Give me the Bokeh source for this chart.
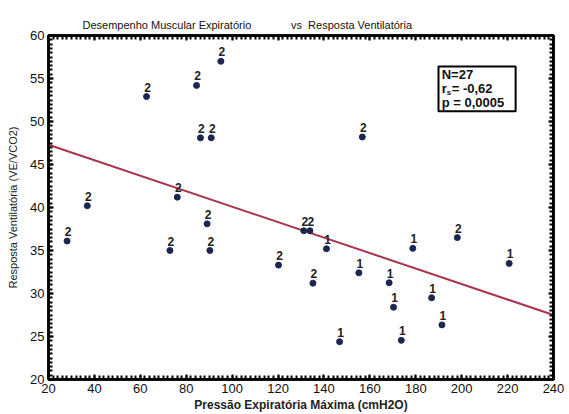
from bokeh.plotting import figure
from bokeh.models import (ColumnDataSource, SingleIntervalTicker, LinearAxis, Range1d)
from bokeh.core.properties import value
from bokeh.embed import file_html
from bokeh.resources import INLINE

# Data
pem = [28.1, 36.9, 62.7, 72.9, 76.1, 84.5, 86.2, 90.9, 89.1, 90.3, 95.1, 120.2, 131.2, 133.9,
       135.2, 141.1, 146.8, 155.2, 156.7, 168.4, 170.3, 173.7, 178.7, 186.9, 191.4, 198.1, 220.7]
resp = [36.1, 40.2, 52.9, 35.0, 41.2, 54.2, 48.1, 48.1, 38.1, 35.0, 57.0, 33.3, 37.3, 37.3,
        31.2, 35.2, 24.4, 32.4, 48.2, 31.25, 28.4, 24.55, 35.25, 29.5, 26.35, 36.5, 33.5]
group = ["2", "2", "2", "2", "2", "2", "2", "2", "2", "2", "2", "2", "2", "2",
         "2", "1", "1", "1", "2", "1", "1", "1", "1", "1", "1", "2", "1"]

fit_x = [20, 240]
fit_y = [47.3, 27.5]

NB = "\u00a0"
title_text = "Desempenho Muscular Expiratório" + NB * 13 + "vs" + NB * 2 + "Resposta Ventilatória"
x_label = "Pressão Expiratória Máxima (cmH2O)"
y_label = "Resposta Ventilatória (VE/VCO2)"

FONT = "Liberation Sans"

# stats box placement (annotation, in data units)
BOX_L, BOX_R, BOX_T, BOX_B = 189.9, 223.5, 56.4, 51.2
TXT_X = 191.3
TXT_Y = [55.5, 53.85, 52.2]

p = figure(width=565, height=414, output_backend="svg", toolbar_location=None,
           x_range=Range1d(20, 240), y_range=Range1d(20, 60),
           min_border_left=48, min_border_right=12, min_border_top=35, min_border_bottom=33,
           x_axis_location=None, y_axis_location=None)
p.grid.visible = False
p.outline_line_color = "black"
p.outline_line_width = 2.5
p.background_fill_color = "white"
p.border_fill_color = "white"

p.title.text = title_text
p.title.align = "left"
p.title.offset = 34
p.title.text_font = FONT
p.title.text_font_size = "11px"
p.title.text_font_style = "normal"
p.title.text_color = "#111111"
p.title.standoff = 10

def style_axis(ax, show_labels):
    ax.axis_line_width = 2.5
    ax.axis_line_color = "black"
    ax.major_tick_in = 5
    ax.major_tick_out = 0
    ax.minor_tick_in = 4
    ax.minor_tick_out = 0
    ax.major_tick_line_color = "black"
    ax.minor_tick_line_color = "black"
    ax.major_tick_line_width = 2
    ax.minor_tick_line_width = 2
    ax.major_label_text_font = FONT
    ax.major_label_text_font_size = "13px"
    ax.major_label_text_color = "#111111"
    ax.major_label_standoff = 4
    if not show_labels:
        ax.major_label_text_alpha = 0
        ax.major_label_text_font_size = "1px"
        ax.major_label_standoff = 0

xb = LinearAxis(ticker=SingleIntervalTicker(interval=20, num_minor_ticks=10), axis_label=x_label)
style_axis(xb, True)
xb.axis_label_text_font = FONT
xb.axis_label_text_font_size = "12px"
xb.axis_label_text_font_style = "bold"
xb.axis_label_text_color = "#222222"
xb.axis_label_standoff = 2
p.add_layout(xb, "below")

xa = LinearAxis(ticker=SingleIntervalTicker(interval=20, num_minor_ticks=10))
style_axis(xa, False)
p.add_layout(xa, "above")

yl = LinearAxis(ticker=SingleIntervalTicker(interval=5, num_minor_ticks=10), axis_label=y_label)
style_axis(yl, True)
yl.axis_label_text_font = FONT
yl.axis_label_text_font_size = "11px"
yl.axis_label_text_font_style = "normal"
yl.axis_label_text_color = "#222222"
yl.axis_label_standoff = 8
p.add_layout(yl, "left")

yr = LinearAxis(ticker=SingleIntervalTicker(interval=5, num_minor_ticks=10))
style_axis(yr, False)
p.add_layout(yr, "right")

# backup frame border drawn as a glyph over the full range
p.quad(left=[20], right=[240], top=[60], bottom=[20], fill_alpha=0,
       line_color="black", line_width=3)

# regression line
p.line(fit_x, fit_y, line_color="#a8344f", line_width=2)

src = ColumnDataSource(dict(x=pem, y=resp, g=group))
p.scatter("x", "y", source=src, size=6, fill_color="#1c2750", line_color="#1c2750")
p.text("x", "y", text="g", source=src, text_align="center", text_baseline="bottom",
       x_offset=1, y_offset=-5, text_font=value(FONT), text_font_size="12px",
       text_font_style="bold", text_color="#222222")

# stats box
p.quad(left=[BOX_L], right=[BOX_R], top=[BOX_T], bottom=[BOX_B],
       fill_color="white", line_color="black", line_width=2)
main_src = ColumnDataSource(dict(x=[TXT_X, TXT_X, TXT_X], y=TXT_Y,
                                 t=["N=27", "r", "p = 0,0005"]))
p.text("x", "y", text="t", source=main_src, text_align="left", text_baseline="middle",
       text_font=value(FONT), text_font_size="13px", text_font_style="bold",
       text_color="#111111")
p.text([TXT_X], [TXT_Y[1]], text=["s"], x_offset=5, y_offset=4, text_align="left",
       text_baseline="middle", text_font=value(FONT), text_font_size="8px",
       text_font_style="bold", text_color="#111111")
p.text([TXT_X], [TXT_Y[1]], text=["= -0,62"], x_offset=10, text_align="left",
       text_baseline="middle", text_font=value(FONT), text_font_size="13px",
       text_font_style="bold", text_color="#111111")

html = file_html(p, INLINE)
open("out.html", "w").write(html)
